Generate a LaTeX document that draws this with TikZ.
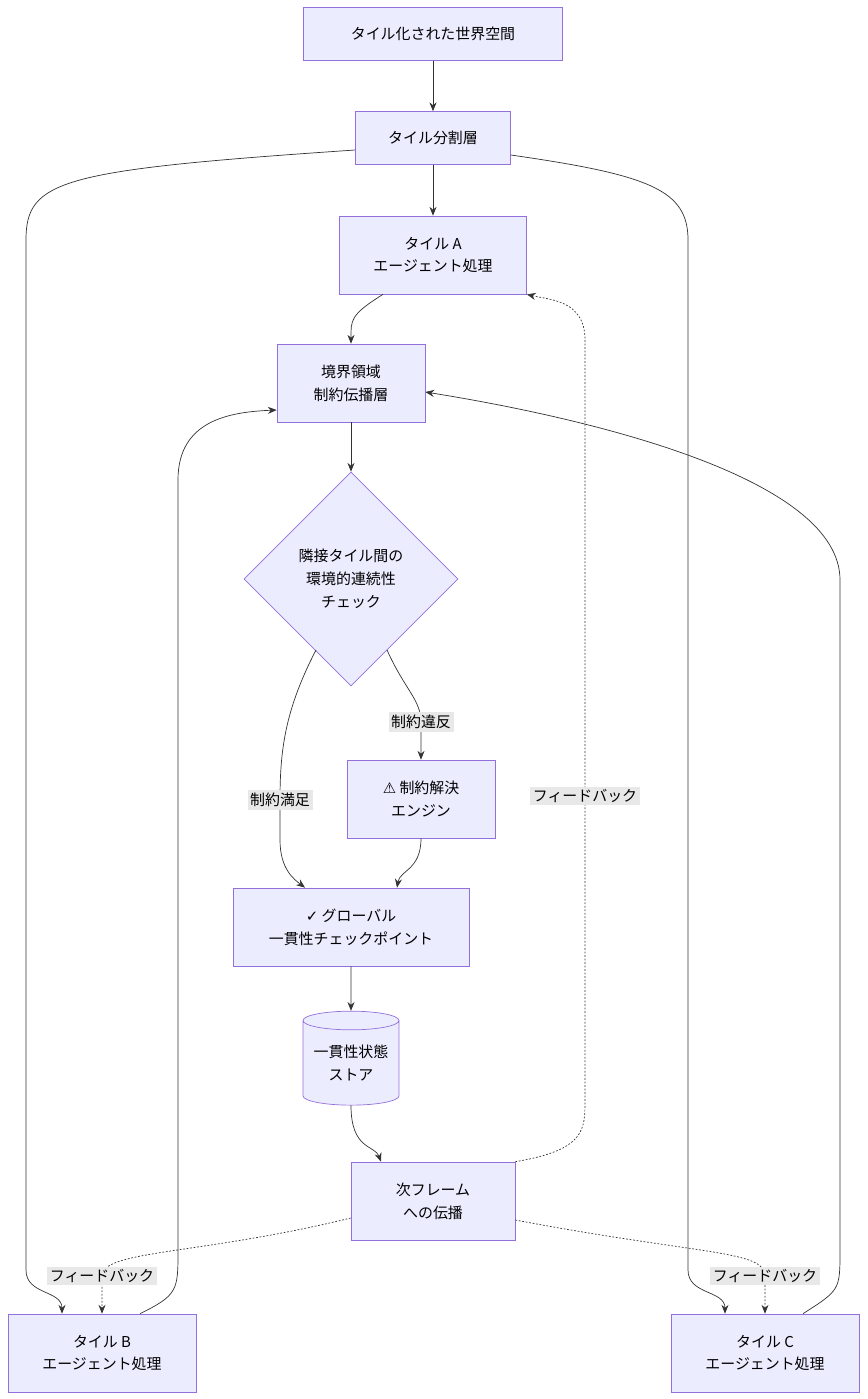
\documentclass[tikz,border=0pt]{standalone}
\usepackage{fontspec}
\setmainfont{Noto Sans CJK JP}
\newfontfamily\symf{DejaVu Sans}
\usetikzlibrary{positioning,shapes.geometric,arrows.meta}
\definecolor{boxfill}{HTML}{ECECFF}
\definecolor{boxline}{HTML}{9370DB}
\definecolor{edge}{HTML}{333333}
\definecolor{lblbg}{HTML}{E8E8E8}
\begin{document}
\begin{tikzpicture}[
  x=0.02cm, y=-0.02cm,
  box/.style={draw=boxline, fill=boxfill, align=center, inner sep=0pt,
    font=\fontsize{8.5}{13}\selectfont},
  flow/.style={draw=edge, -{Stealth[length=5pt,width=4pt]}},
  fb/.style={flow, dash pattern=on 1pt off 1pt},
  lbl/.style={fill=lblbg, inner sep=1.5pt, font=\fontsize{8.5}{11}\selectfont}
]
\useasboundingbox (0,0) rectangle (867,1399);
% nodes
\node[box, minimum width=5.18cm, minimum height=1.06cm] (world) at (433,34) {タイル化された世界空間};
\node[box, minimum width=3.1cm, minimum height=1.06cm] (split) at (433,138) {タイル分割層};
\node[box, minimum width=3.74cm, minimum height=1.56cm] (tileA) at (433,255) {タイル A\\エージェント処理};
\node[box, minimum width=2.96cm, minimum height=1.56cm] (bound) at (351,383) {境界領域\\制約伝播層};
\node[box, diamond, minimum width=4.28cm, minimum height=4.28cm] (check) at (351,579) {隣接タイル間の\\環境的連続性\\チェック};
\node[box, minimum width=2.96cm, minimum height=1.56cm] (solve) at (421,799) {{\symf ⚠} 制約解決\\エンジン};
\node[box, minimum width=4.72cm, minimum height=1.56cm] (glob) at (351,927) {{\symf ✓} グローバル\\一貫性チェックポイント};
\node[box, cylinder, shape border rotate=90, aspect=0.25, minimum width=1.92cm, minimum height=1.88cm] (store) at (351,1063) {一貫性状態\\ストア};
\node[box, minimum width=3.28cm, minimum height=1.56cm] (next) at (433,1201) {次フレーム\\への伝播};
\node[box, minimum width=3.76cm, minimum height=1.56cm] (tileB) at (102,1353) {タイル B\\エージェント処理};
\node[box, minimum width=3.76cm, minimum height=1.56cm] (tileC) at (765,1353) {タイル C\\エージェント処理};
% main flow
\draw[flow] (world) -- (split);
\draw[flow] (split) -- (tileA);
\draw[flow] (split.west |- 0,150) .. controls (60,170) and (26,180) .. (26,240) -- (26,1270) .. controls (26,1295) and (62,1290) .. (tileB.north -| 62,0);
\draw[flow] (split.east |- 0,155) .. controls (650,175) and (688,190) .. (688,240) -- (688,1270) .. controls (688,1295) and (725,1290) .. (tileC.north -| 725,0);
\draw[flow] (tileA.south -| 383,0) .. controls (350,315) and (351,320) .. (bound.north);
\draw[flow] (bound) -- (check);
\draw[flow] (316,650) .. controls (285,710) and (280,750) .. (280,800) node[lbl] {制約満足} -- (280,840) .. controls (280,870) and (295,880) .. (glob.north -| 305,0);
\draw[flow] (387,650) .. controls (405,690) and (421,700) .. (421,722) node[lbl] {制約違反} -- (solve.north);
\draw[flow] (solve.south) .. controls (421,870) and (400,870) .. (glob.north -| 397,0);
\draw[flow] (glob) -- (store);
\draw[flow] (store.south) .. controls (351,1150) and (375,1145) .. (next.north -| 381,0);
% feedback
\draw[fb] (next.north east) .. controls (585,1150) and (585,1130) .. (585,1100) -- node[lbl, pos=0.4] {フィードバック} (585,340) .. controls (585,300) and (550,300) .. (tileA.south east);
\draw[fb] (next.west |- 0,1218) .. controls (200,1255) and (102,1250) .. (102,1276) node[lbl] {フィードバック} -- (tileB.north);
\draw[fb] (next.east |- 0,1220) .. controls (700,1255) and (765,1250) .. (765,1276) node[lbl] {フィードバック} -- (tileC.north);
% returns
\draw[flow] (tileB.north -| 140,0) .. controls (178,1295) and (178,1290) .. (178,1250) -- (178,480) .. controls (178,420) and (230,412) .. (bound.west |- 0,410);
\draw[flow] (tileC.north -| 803,0) .. controls (840,1290) and (840,1290) .. (840,1250) -- (840,580) .. controls (840,480) and (600,420) .. (bound.east |- 0,392);
\end{tikzpicture}
\end{document}
